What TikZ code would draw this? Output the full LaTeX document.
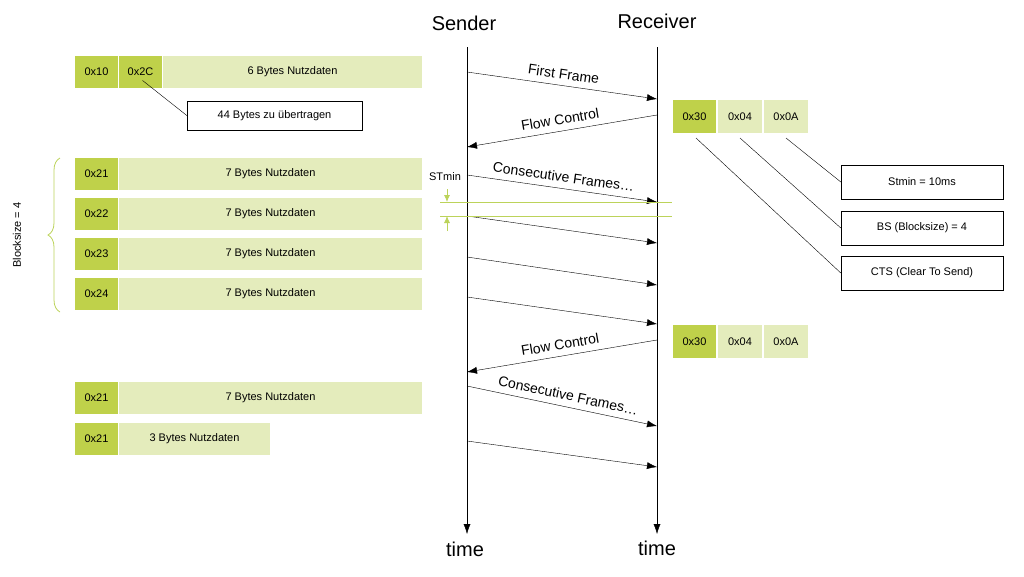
\documentclass[tikz,border=0pt]{standalone}
\usepackage{fontspec}
\setmainfont{Liberation Sans}
\usetikzlibrary{decorations.pathreplacing,arrows.meta}
\definecolor{darkgr}{HTML}{BFD14A}
\definecolor{lightgr}{HTML}{E4ECBC}
\definecolor{linegr}{HTML}{BCD35A}
\tikzset{
  >={Latex[length=10pt,width=7pt]},
  hdr/.style = {fill=darkgr, font=\fontsize{11}{12}\selectfont},
  dat/.style = {fill=lightgr, font=\fontsize{11}{12}\selectfont},
  info/.style = {draw, font=\fontsize{11}{12}\selectfont},
  msg/.style = {->},
  lbl/.style = {font=\fontsize{14}{15}\selectfont, above=3pt, sloped},
  big/.style = {font=\fontsize{20}{22}\selectfont}
}
\begin{document}
\begin{tikzpicture}[x=1pt,y=-1pt]
  \useasboundingbox (0,0) rectangle (1024,576);
  % time lines
  \node[big] (snd) at (464,23) {Sender};
  \node[big] (rcv) at (657,21) {Receiver};
  \coordinate (s0) at (467,47); \coordinate (s1) at (467,534);
  \coordinate (r0) at (657,47); \coordinate (r1) at (657,534);
  \draw[->] (s0) -- (s1);
  \draw[->] (r0) -- (r1);
  \node[big] (st) at (465,549) {time};
  \node[big] (rt) at (657,548) {time};
  % messages
  \draw[msg] (467,72) -- node[lbl] {First Frame} (657,99);
  \draw[msg] (657,115) -- node[lbl] {Flow Control} (467,147);
  \draw[msg] (467,175) -- node[lbl] {Consecutive Frames\dots} (657,202);
  \draw[msg] (467,216) -- (657,243);
  \draw[msg] (467,257) -- (657,285);
  \draw[msg] (467,297) -- (657,324);
  \draw[msg] (657,340) -- node[lbl] {Flow Control} (467,372);
  \draw[msg] (467,386) -- node[lbl,pos=0.52] {Consecutive Frames\dots} (657,426);
  \draw[msg] (467,441) -- (657,467);
  % STmin
  \draw[linegr,thick] (440,202) -- (672,202);
  \draw[linegr,thick] (440,216) -- (672,216);
  \node[font=\fontsize{11}{12}\selectfont] (stm) at (445,177) {STmin};
  \draw[->,linegr,thick,>={Latex[length=7pt,width=6pt]}] (447,189) -- (447,202);
  \draw[->,linegr,thick,>={Latex[length=7pt,width=6pt]}] (447,231) -- (447,216);
  % sender frames
  \path[hdr] (75,56) rectangle node (ff1) {0x10} (118,88);
  \path[hdr] (119,56) rectangle node (ff2) {0x2C} (162,88);
  \path[dat] (163,56) rectangle node (ff3) {6 Bytes Nutzdaten} (422,88);
  \node[info,minimum width=175pt,minimum height=29pt] (len) at (274.5,115.5) {44 Bytes zu übertragen};
  \draw (ff2.south) ++(2,1) -- (len.west);
  \foreach \n/\y in {0x21/158,0x22/198,0x23/238,0x24/278,0x21/382}{
    \path[hdr] (75,\y) rectangle node {\n} (118,\y+32);
    \path[dat] (119,\y) rectangle node {7 Bytes Nutzdaten} (422,\y+32);
  }
  \path[hdr] (75,423) rectangle node {0x21} (118,455);
  \path[dat] (119,423) rectangle node {3 Bytes Nutzdaten} (270,455);
  % block size brace
  \draw[linegr,thick,decorate,decoration={brace,amplitude=12pt}] (60,312) -- (60,158);
  \node[rotate=90,font=\fontsize{11}{12}\selectfont] (bsz) at (17,235) {Blocksize = 4};
  % flow control frames
  \foreach \y/\t in {100/a,325/b}{
    \path[hdr] (673,\y) rectangle node (fc\t1) {0x30} (716,\y+33);
    \path[dat] (718,\y) rectangle node (fc\t2) {0x04} (762,\y+33);
    \path[dat] (764,\y) rectangle node (fc\t3) {0x0A} (808,\y+33);
  }
  \node[info,minimum width=162pt,minimum height=34pt] (stv) at (922,182) {Stmin = 10ms};
  \node[info,minimum width=162pt,minimum height=34pt] (bsv) at (922,228) {BS (Blocksize) = 4};
  \node[info,minimum width=162pt,minimum height=34pt] (cts) at (922,273) {CTS (Clear To Send)};
  \draw (696,138) -- (cts.west);
  \draw (740,138) -- (bsv.west);
  \draw (786,138) -- (stv.west);
\end{tikzpicture}
\end{document}
